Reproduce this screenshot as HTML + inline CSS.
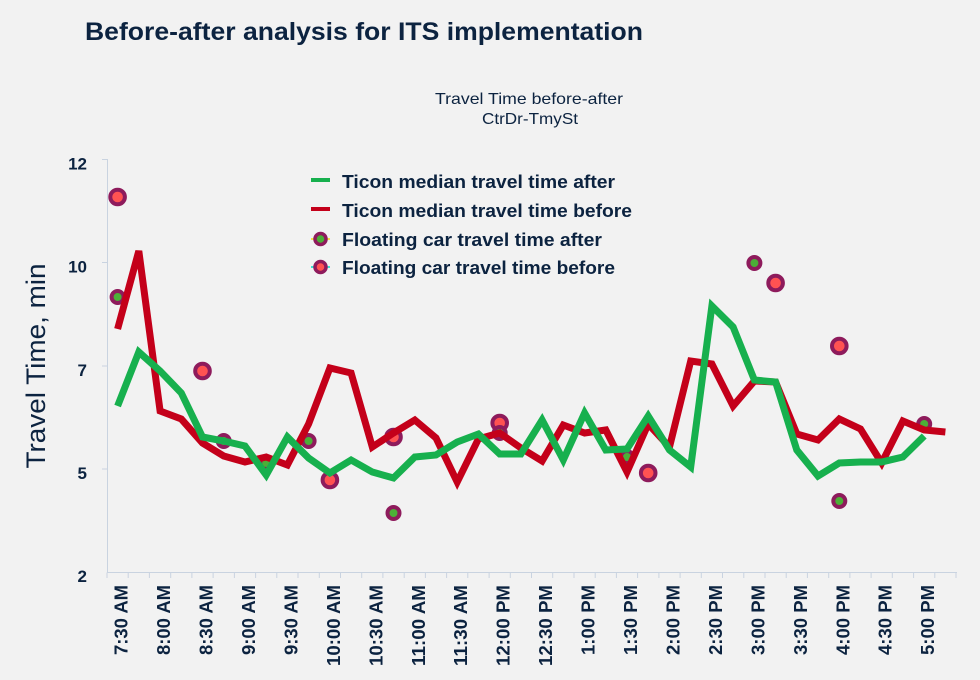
<!DOCTYPE html>
<html>
<head>
<meta charset="utf-8">
<style>
  html,body{margin:0;padding:0;background:#f2f2f2;}
  svg{display:block;}
  text{font-family:"Liberation Sans",sans-serif;fill:#0c2340;}
</style>
</head>
<body>
<svg width="980" height="680" viewBox="0 0 980 680" xmlns="http://www.w3.org/2000/svg">
  <rect x="0" y="0" width="980" height="680" fill="#f2f2f2"/>

  <!-- Title -->
  <text x="85" y="40" font-size="25" font-weight="bold" textLength="558" lengthAdjust="spacingAndGlyphs">Before-after analysis for ITS implementation</text>

  <!-- Subtitle -->
  <text x="529" y="104" font-size="16" text-anchor="middle" textLength="188" lengthAdjust="spacingAndGlyphs">Travel Time before-after</text>
  <text x="530" y="124" font-size="16" text-anchor="middle" textLength="96" lengthAdjust="spacingAndGlyphs">CtrDr-TmySt</text>

  <!-- Y axis title -->
  <text transform="translate(45,366) rotate(-90)" x="0" y="0" font-size="27" text-anchor="middle" textLength="205" lengthAdjust="spacingAndGlyphs">Travel Time, min</text>

  <!-- Axes -->
  <g stroke="#c9d3e0" stroke-width="1" fill="none">
    <line x1="107.5" y1="159" x2="107.5" y2="573"/>
    <line x1="102" y1="159.5" x2="107.5" y2="159.5"/>
    <line x1="102" y1="262.5" x2="107.5" y2="262.5"/>
    <line x1="102" y1="366" x2="107.5" y2="366"/>
    <line x1="102" y1="469" x2="107.5" y2="469"/>
    <line x1="107" y1="572.5" x2="957" y2="572.5"/>
  </g>
  <g stroke="#c9d3e0" stroke-width="1" id="xticks"></g>

  <!-- Y tick labels -->
  <g font-size="17" font-weight="bold" text-anchor="end">
    <text x="87" y="169.5">12</text>
    <text x="87" y="272.5">10</text>
    <text x="87" y="376">7</text>
    <text x="87" y="479">5</text>
    <text x="87" y="582">2</text>
  </g>

  <!-- X labels -->
  <g id="xlabels" font-size="18" font-weight="bold"></g>

  <!-- Scatter markers (under lines) -->
  <g id="markers"></g>

  <!-- Lines -->
  <polyline id="redline" fill="none" stroke="#c4001a" stroke-width="7" stroke-linejoin="miter" stroke-miterlimit="3"/>
  <polyline id="greenline" fill="none" stroke="#17b04e" stroke-width="7" stroke-linejoin="miter" stroke-miterlimit="3"/>

  <!-- Legend -->
  <line x1="311" y1="180" x2="330" y2="180" stroke="#17b04e" stroke-width="4"/>
  <line x1="311" y1="209" x2="330" y2="209" stroke="#c4001a" stroke-width="4"/>
  <line x1="311" y1="239" x2="330" y2="239" stroke="#f2e24a" stroke-width="2"/>
  <circle cx="320.5" cy="239" r="5.5" fill="#4caf37" stroke="#8e1b5c" stroke-width="3.5"/>
  <line x1="311" y1="267" x2="330" y2="267" stroke="#3fe0d0" stroke-width="2"/>
  <circle cx="320.5" cy="267" r="5.5" fill="#ff5252" stroke="#8e1b5c" stroke-width="3.5"/>
  <g font-size="18.5" font-weight="bold">
    <text x="342" y="188" textLength="273" lengthAdjust="spacingAndGlyphs">Ticon median travel time after</text>
    <text x="342" y="217" textLength="290" lengthAdjust="spacingAndGlyphs">Ticon median travel time before</text>
    <text x="342" y="246" textLength="260" lengthAdjust="spacingAndGlyphs">Floating car travel time after</text>
    <text x="342" y="274" textLength="273" lengthAdjust="spacingAndGlyphs">Floating car travel time before</text>
  </g>

  <script>
    (function(){
      var NS="http://www.w3.org/2000/svg";
      function cx(i){return 107+21.225*(i+0.5);}
      var green=[406,352,371,393,437,441,446,475,437,458,473,460,472,478,457,455,442,434,454,454,420,460,413,450,449,416,450,467,306,327,380,382,450,476,463,462,462,457,436];
      var red=[329,251,411,419,443,456,462,457,465,424,368,373,447,433,420,438,482,439,433,448,461,425,433,430,472,424,447,361,364,406,381,382,434,440,419,429,463,421,430,432];
      function pts(a){return a.map(function(y,i){return cx(i).toFixed(1)+","+y;}).join(" ");}
      document.getElementById("greenline").setAttribute("points",pts(green));
      document.getElementById("redline").setAttribute("points",pts(red));

      var tk=document.getElementById("xticks");
      for(var k=0;k<=40;k++){
        var x=(107+21.225*k).toFixed(1);
        var l=document.createElementNS(NS,"line");
        l.setAttribute("x1",x);l.setAttribute("x2",x);
        l.setAttribute("y1","572.5");l.setAttribute("y2","578");
        tk.appendChild(l);
      }

      var labels=["7:30 AM","8:00 AM","8:30 AM","9:00 AM","9:30 AM","10:00 AM","10:30 AM","11:00 AM","11:30 AM","12:00 PM","12:30 PM","1:00 PM","1:30 PM","2:00 PM","2:30 PM","3:00 PM","3:30 PM","4:00 PM","4:30 PM","5:00 PM"];
      var xl=document.getElementById("xlabels");
      labels.forEach(function(s,j){
        var i=j*2;
        var t=document.createElementNS(NS,"text");
        var bx=(cx(i)+10).toFixed(1);
        t.setAttribute("transform","translate("+bx+",585) rotate(-90)");
        t.setAttribute("x","0");t.setAttribute("y","0");
        t.setAttribute("text-anchor","end");
        var len = (s.split(":")[0].length==2)?81:70;
        t.setAttribute("textLength",len);
        t.setAttribute("lengthAdjust","spacingAndGlyphs");
        t.textContent=s;
        xl.appendChild(t);
      });

      var mk=document.getElementById("markers");
      var after=[[0,297],[5,441],[7,463],[9,441],[13,513],[18,433],[24,457],[30,263],[34,501],[38,424]];
      var before=[[0,197],[4,371],[10,480],[13,437],[18,423],[25,473],[31,283],[34,346]];
      before.forEach(function(p){
        var c=document.createElementNS(NS,"circle");
        c.setAttribute("cx",cx(p[0]).toFixed(1));c.setAttribute("cy",p[1]);
        c.setAttribute("r","7.3");c.setAttribute("fill","#ff5252");
        c.setAttribute("stroke","#8e1b5c");c.setAttribute("stroke-width","4");
        mk.appendChild(c);
      });
      after.forEach(function(p){
        var c=document.createElementNS(NS,"circle");
        c.setAttribute("cx",cx(p[0]).toFixed(1));c.setAttribute("cy",p[1]);
        c.setAttribute("r","6");c.setAttribute("fill","#4caf37");
        c.setAttribute("stroke","#8e1b5c");c.setAttribute("stroke-width","4");
        mk.appendChild(c);
      });
    })();
  </script>
</svg>
</body>
</html>
